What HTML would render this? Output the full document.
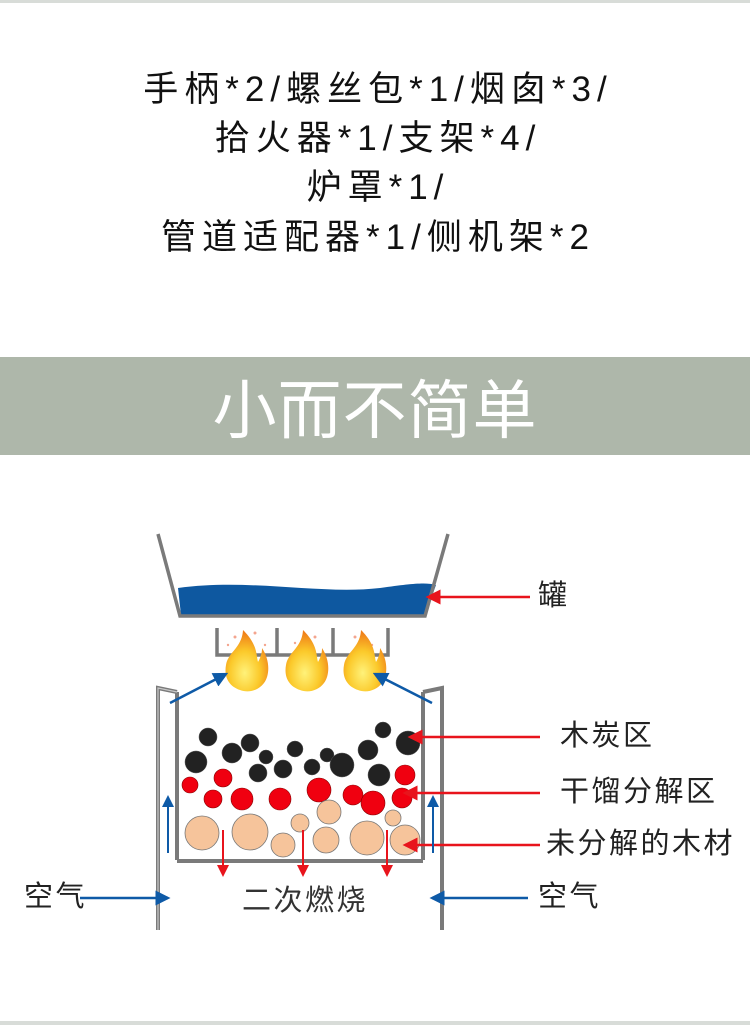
<!DOCTYPE html>
<html><head><meta charset="utf-8"><style>
body{margin:0;width:750px;height:1025px;position:relative;background:#fff;overflow:hidden;font-family:"Liberation Sans","Noto Sans CJK SC",sans-serif;}
.l{position:absolute;left:0;width:750px;text-align:center;font-size:35px;color:#111;letter-spacing:6px;line-height:40px;text-indent:6px;}
.t{position:absolute;font-size:29px;color:#222;line-height:34px;letter-spacing:2.5px;}
</style></head><body>
<div style="position:absolute;left:0;top:0;width:750px;height:3px;background:#d8dcd8"></div>
<div class="l" style="top:70px">手柄*2/螺丝包*1/烟囱*3/</div>
<div class="l" style="top:119px">拾火器*1/支架*4/</div>
<div class="l" style="top:168px">炉罩*1/</div>
<div class="l" style="top:218px">管道适配器*1/侧机架*2</div>
<div style="position:absolute;left:0;top:357px;width:750px;height:98px;background:#aeb7aa;color:#fff;font-size:64px;text-align:center;line-height:98px;letter-spacing:1px;font-family:'Noto Sans CJK SC',sans-serif">小而不简单</div>
<svg style="position:absolute;left:0;top:0" width="750" height="1025">
<defs>
<marker id="r" markerWidth="6" markerHeight="6" refX="5" refY="3" orient="auto"><path d="M0,0L6,3L0,6z" fill="#e8141c"/></marker>
<marker id="b" markerWidth="6" markerHeight="6" refX="5" refY="3" orient="auto"><path d="M0,0L6,3L0,6z" fill="#0e5aa7"/></marker>
<radialGradient id="f" cx="0.45" cy="0.7" r="0.65"><stop offset="0" stop-color="#fff27a"/><stop offset="0.55" stop-color="#fbc92a"/><stop offset="1" stop-color="#f0801a"/></radialGradient>
</defs>
<path d="M178,588 C250,578 320,595 380,588 C410,584 425,582 436,585 L425,615 L181,615 Z" fill="#0e58a0"/>
<path d="M158,534 L180,616 L425,616 L448,534" fill="none" stroke="#7a7a7a" stroke-width="3.5"/>
<path d="M217,628 V655 H388 V628 M277,628 V655 M333,628 V655" fill="none" stroke="#7a7a7a" stroke-width="3.5"/>
<g fill="#f4a58f"><circle cx="235" cy="637" r="1.5"/><circle cx="255" cy="633" r="1.5"/><circle cx="265" cy="645" r="1.2"/><circle cx="295" cy="643" r="1.2"/><circle cx="315" cy="637" r="1.5"/><circle cx="355" cy="637" r="1.5"/><circle cx="372" cy="645" r="1.2"/><circle cx="228" cy="645" r="1.2"/></g>
<g id="fl">
<path d="M243,630 C258,645 256,655 258,662 C262,655 262,650 262,648 C270,660 270,675 264,683 C258,691 248,693 240,690 C228,686 224,676 226,665 C228,652 242,648 243,630 Z" fill="url(#f)"/>
</g>
<use href="#fl" x="60"/><use href="#fl" x="118"/>
<path d="M158,930 V688 L177,692 M177,860 V692" fill="none" stroke="#7a7a7a" stroke-width="4"/>
<path d="M158,930 V688 L177,692" fill="none" stroke="#c8c8c8" stroke-width="1.2"/>
<path d="M442,930 V688 L423,692 M423,860 V692" fill="none" stroke="#7a7a7a" stroke-width="4"/>
<path d="M177,861 H423" stroke="#7a7a7a" stroke-width="4"/>
<g fill="#222" stroke="#555" stroke-width="0.5">
<circle cx="208" cy="737" r="9"/><circle cx="196" cy="762" r="11"/><circle cx="232" cy="753" r="10"/><circle cx="250" cy="743" r="9"/><circle cx="266" cy="757" r="7"/><circle cx="258" cy="773" r="9"/><circle cx="283" cy="769" r="9"/><circle cx="295" cy="749" r="8"/><circle cx="312" cy="767" r="8"/><circle cx="327" cy="755" r="7"/><circle cx="342" cy="765" r="12"/><circle cx="368" cy="750" r="10"/><circle cx="383" cy="730" r="8"/><circle cx="408" cy="743" r="12"/><circle cx="379" cy="775" r="11"/>
</g>
<g fill="#f00010" stroke="#800" stroke-width="0.6">
<circle cx="190" cy="785" r="8"/><circle cx="223" cy="778" r="9"/><circle cx="213" cy="799" r="9"/><circle cx="242" cy="799" r="11"/><circle cx="280" cy="799" r="11"/><circle cx="319" cy="790" r="12"/><circle cx="353" cy="795" r="10"/><circle cx="373" cy="803" r="12"/><circle cx="405" cy="775" r="10"/><circle cx="402" cy="798" r="10"/>
</g>
<g fill="#f6c49b" stroke="#777" stroke-width="0.8">
<circle cx="202" cy="833" r="17"/><circle cx="250" cy="832" r="18"/><circle cx="283" cy="845" r="12"/><circle cx="300" cy="823" r="9"/><circle cx="329" cy="812" r="12"/><circle cx="326" cy="840" r="13"/><circle cx="367" cy="838" r="17"/><circle cx="393" cy="818" r="8"/><circle cx="405" cy="840" r="15"/>
</g>
<g stroke="#e8141c" stroke-width="2" marker-end="url(#r)">
<line x1="223" y1="830" x2="223" y2="875"/><line x1="303" y1="830" x2="303" y2="875"/><line x1="387" y1="830" x2="387" y2="875"/>
<line x1="530" y1="597" x2="428" y2="597" stroke-width="2.5"/>
<line x1="540" y1="737" x2="410" y2="737" stroke-width="2.5"/>
<line x1="540" y1="793" x2="405" y2="793" stroke-width="2.5"/>
<line x1="540" y1="845" x2="405" y2="845" stroke-width="2.5"/>
</g>
<g stroke="#0e5aa7" stroke-width="2.5" marker-end="url(#b)">
<line x1="170" y1="703" x2="226" y2="674"/><line x1="432" y1="703" x2="375" y2="674"/>
<line x1="168" y1="853" x2="168" y2="797" stroke-width="2"/><line x1="433" y1="853" x2="433" y2="797" stroke-width="2"/>
<line x1="80" y1="898" x2="168" y2="898"/><line x1="528" y1="898" x2="432" y2="898"/>
</g>
</svg>
<div class="t" style="left:538px;top:579px">罐</div>
<div class="t" style="left:560px;top:719px">木炭区</div>
<div class="t" style="left:560px;top:775px">干馏分解区</div>
<div class="t" style="left:546px;top:827px">未分解的木材</div>
<div class="t" style="left:24px;top:880px">空气</div>
<div class="t" style="left:538px;top:880px">空气</div>
<div class="t" style="left:242px;top:884px;color:#333">二次燃烧</div>
<div style="position:absolute;left:0;top:1021px;width:750px;height:4px;background:#d8dcd8"></div>
</body></html>
